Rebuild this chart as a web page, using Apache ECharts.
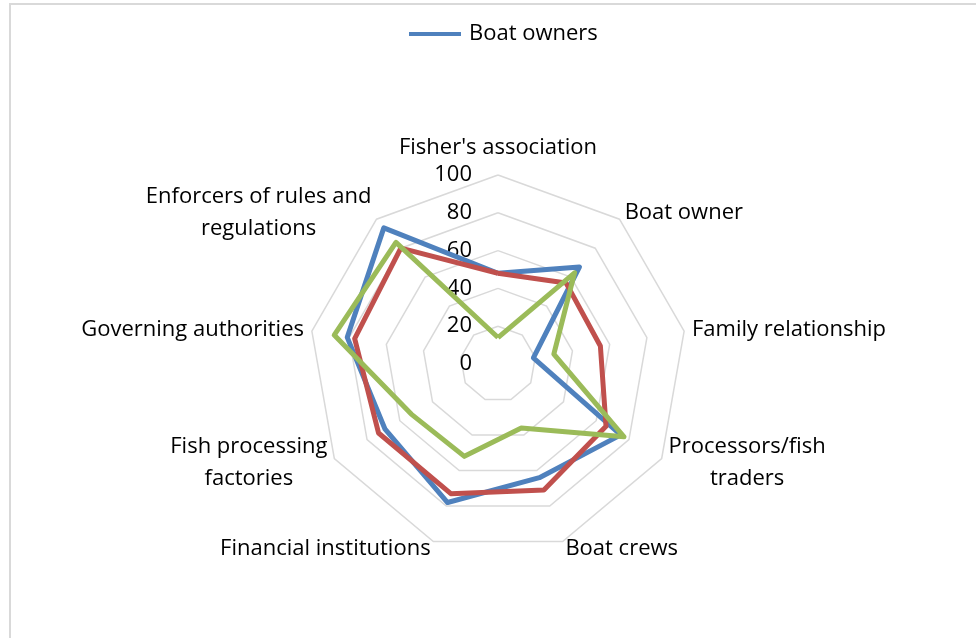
<!DOCTYPE html>
<html><head><meta charset="utf-8">
<script src="https://cdn.jsdelivr.net/npm/echarts@6/dist/echarts.min.js"></script>
<style>html,body{margin:0;padding:0;background:#fff}#c{width:976px;height:638px}</style>
</head><body><div id="c"></div>
<script>
const indicatorNames = ["Fisher's association", "Boat owner", "Family relationship", "Processors/fish\ntraders", "Boat crews", "Financial institutions", "Fish processing\nfactories", "Governing authorities", "Enforcers of rules and\nregulations"];
const seriesNames = ['Boat owners', 'Boat crews', 'Processors'];
const boatOwners = [48, 67, 19, 75, 64, 78, 69, 81, 94];
const series2 = [48, 56, 55, 66, 71, 73, 73, 77, 80];
const series3 = [14, 63, 30, 77, 36, 52, 53, 88, 84];
const axisMin = 0, axisMax = 100, axisSplits = 5;
const colors = ['#4f81bd', '#c0504d', '#9bbb59'];
const FONT = 'Open Sans';
const FS = 22;

// ECharts lays radar axes counter-clockwise; reorder so the chart reads clockwise from the top.
const order = [0].concat(indicatorNames.map((_, i) => i).slice(1).reverse());

const chart = echarts.init(document.getElementById('c'), null, {renderer: 'canvas'});
const indicator = order.map((idx, i) => {
  const o = {name: indicatorNames[idx], min: axisMin, max: axisMax};
  if (i === 0) o.axisLabel = {show: true, fontSize: FS, color: '#000', fontFamily: FONT, margin: 26};
  return o;
});
const values = [boatOwners, series2, series3];
chart.setOption({
  animation: false,
  backgroundColor: '#fff',
  graphic: [{type: 'rect', shape: {x: 10, y: 4, width: 1200, height: 1000}, style: {fill: 'none', stroke: '#d9d9d9', lineWidth: 2}, silent: true}],
  legend: {
    data: [seriesNames[0]],
    left: 409, top: 23, padding: 0,
    icon: 'rect', itemWidth: 52, itemHeight: 4, itemGap: 10,
    textStyle: {fontSize: FS, color: '#000', fontFamily: FONT, padding: [0, 0, 0, 3]}
  },
  radar: {
    center: [498, 364],
    radius: 189,
    startAngle: 90,
    shape: 'polygon',
    splitNumber: axisSplits,
    indicator: indicator,
    axisLine: {show: false},
    axisTick: {show: false},
    axisLabel: {show: false},
    splitArea: {show: false},
    splitLine: {lineStyle: {color: '#d9d9d9', width: 1.5}},
    axisNameGap: 8,
    axisName: {
      color: '#000', fontSize: FS, fontFamily: FONT, lineHeight: 32,
      formatter: (v) => v.split('\n').map(s => '{c|' + s + '}').join('\n'),
      rich: {c: {align: 'center', fontSize: FS, fontFamily: FONT, color: '#000', lineHeight: 32}}
    }
  },
  series: [{
    type: 'radar',
    symbol: 'none',
    data: values.map((v, i) => ({
      name: seriesNames[i], value: order.map(k => v[k]),
      lineStyle: {color: colors[i], width: 5},
      itemStyle: {color: colors[i]}
    }))
  }]
});
</script></body></html>
